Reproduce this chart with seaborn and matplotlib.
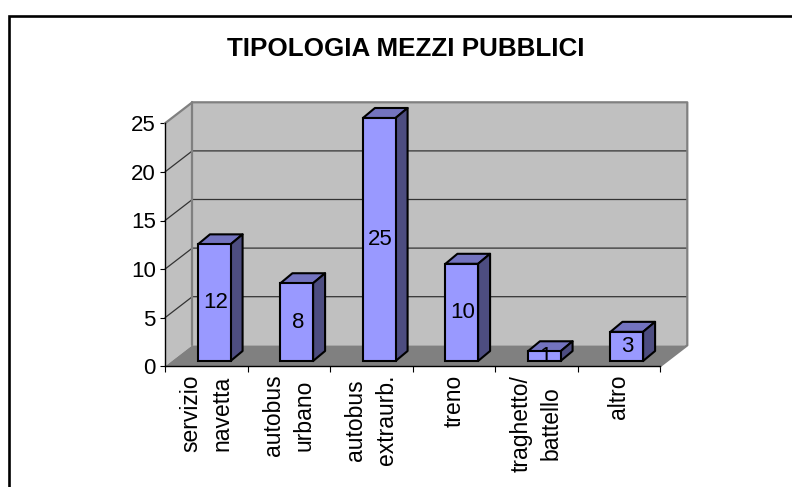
import matplotlib
matplotlib.use("Agg")
import matplotlib.pyplot as plt
import pandas as pd
import seaborn as sns
from matplotlib.lines import Line2D
from matplotlib.patches import Polygon

categories = [
    "servizio\nnavetta",
    "autobus\nurbano",
    "autobus\nextraurb.",
    "treno",
    "traghetto/\nbattello",
    "altro",
]
values = [12, 8, 25, 10, 1, 3]
y_ticks = [0, 5, 10, 15, 20, 25]
title = "TIPOLOGIA MEZZI PUBBLICI"

FRONT = "#9999FF"
TOP = "#7373BF"
SIDE = "#4D4D80"
WALL = "#C0C0C0"
FLOOR = "#808080"
GRID = "#333333"

sns.set_theme(style="white")
plt.rcParams["font.family"] = ["Liberation Sans", "DejaVu Sans"]

W, H = 792, 487
fig = plt.figure(figsize=(W / 100, H / 100), dpi=100, facecolor="white")
ax = fig.add_axes([165 / W, 1 - 366.3 / H, 495 / W, 243 / H])
ax.patch.set_visible(False)

df = pd.DataFrame({"categoria": categories, "valore": values})
sns.barplot(data=df, x="categoria", y="valore", color=FRONT, saturation=1, width=0.396,
            edgecolor="black", linewidth=1.5, ax=ax, zorder=5)
ax.set_xlim(-0.5, 5.5)
ax.set_ylim(0, 25)
ax.set_xlabel("")
ax.set_ylabel("")

# pixel sizes converted to data units, the chart is a fake 3d one
px_x = 495 / 6
px_y = 243 / 25
wall_dx, wall_dy = 27.3 / px_x, 21 / px_y
bar_dx, bar_dy = 12 / px_x, 10 / px_y
shift_x, shift_y = 8.0 / px_x, 5.3 / px_y

x0, x1 = -0.5, 5.5
top = y_ticks[-1]


def poly(points, color, z, edge="none", lw=0):
    ax.add_patch(Polygon(points, closed=True, facecolor=color, edgecolor=edge, linewidth=lw,
                         clip_on=False, zorder=z, joinstyle="round"))


def line(xs, ys, color, lw, z=2):
    ax.add_line(Line2D(xs, ys, color=color, linewidth=lw, clip_on=False, zorder=z))


# walls and floor
poly([(x0 + wall_dx, wall_dy), (x1 + wall_dx, wall_dy), (x1 + wall_dx, top + wall_dy), (x0 + wall_dx, top + wall_dy)], WALL, 0.5)
poly([(x0, 0), (x0 + wall_dx, wall_dy), (x0 + wall_dx, top + wall_dy), (x0, top)], WALL, 0.5)
poly([(x0, 0), (x1, 0), (x1 + wall_dx, wall_dy), (x0 + wall_dx, wall_dy)], FLOOR, 0.6)

for v in y_ticks[1:-1]:
    line([x0, x0 + wall_dx, x1 + wall_dx], [v, v + wall_dy, v + wall_dy], GRID, 0.9)
line([x0, x0 + wall_dx, x1 + wall_dx, x1 + wall_dx, x1],
     [top, top + wall_dy, top + wall_dy, wall_dy, 0], FLOOR, 1.6)
line([x0 + wall_dx, x0 + wall_dx], [wall_dy, top + wall_dy], FLOOR, 1.6)

# move the seaborn bars back on the floor and give them depth
bars = list(ax.containers[0])
for bar, value in zip(bars, values):
    bar.set_x(bar.get_x() + shift_x)
    bar.set_y(shift_y)
    bar.set_clip_on(False)
    left = bar.get_x()
    right = left + bar.get_width()
    low = shift_y
    high = low + value
    poly([(left, high), (right, high), (right + bar_dx, high + bar_dy), (left + bar_dx, high + bar_dy)],
         TOP, 4, "black", 1.5)
    poly([(right, low), (right + bar_dx, low + bar_dy), (right + bar_dx, high + bar_dy), (right, high)],
         SIDE, 4, "black", 1.5)
    ax.text((left + right) / 2 + 0.012, low + value / 2 + 0.25, str(value), ha="center", va="center_baseline",
            fontsize=16, color="black", zorder=6, clip_on=False)

# axes
sns.despine(ax=ax)
for name in ["left", "bottom"]:
    ax.spines[name].set_color("black")
    ax.spines[name].set_linewidth(1.0)
    ax.spines[name].set_zorder(3)

ax.set_yticks(y_ticks)
ax.tick_params(axis="y", left=True, length=3.6, width=0.8, pad=3.0, labelsize=16, colors="black")

ax.set_xticks([i - 0.5 for i in range(len(categories) + 1)], minor=True)
ax.tick_params(axis="x", which="minor", bottom=True, length=4.3, width=0.8, color="black")
ax.tick_params(axis="x", which="major", bottom=False, pad=0)
ax.set_xticks(range(len(categories)))
ax.set_xticklabels(categories, rotation=90, ha="center", va="top", ma="center",
                   fontsize=16.5, linespacing=1.42, color="black")

# chart frame, only top and left are visible
fig.add_artist(Line2D([8.5 / W, 8.5 / W, 1], [0, 1 - 15.5 / H, 1 - 15.5 / H], color="black", linewidth=1.9,
                      transform=fig.transFigure, solid_joinstyle="miter"))
fig.text(405.5 / W, 1 - 49 / H, title, ha="center", va="center", fontsize=18.7, fontweight="bold", color="black")

fig.savefig("out.png", dpi=100)
